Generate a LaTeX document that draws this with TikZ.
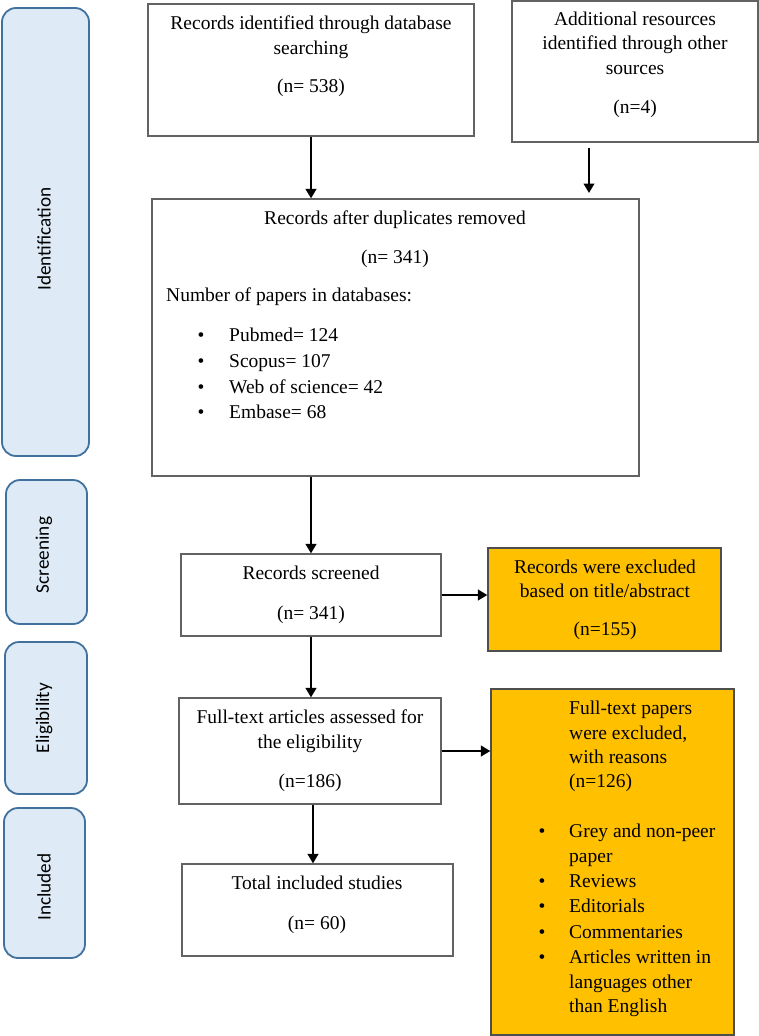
\documentclass[tikz,border=0pt]{standalone}
\usepackage{fontspec}
\setmainfont{Liberation Serif}
\newfontfamily\stagefont{Carlito}
\usetikzlibrary{arrows.meta,calc}
\definecolor{stagefill}{HTML}{DEEBF7}
\definecolor{stageline}{HTML}{41719C}
\definecolor{exclfill}{HTML}{FFC000}
\definecolor{boxline}{HTML}{626262}
\begin{document}
\begin{tikzpicture}[x=1pt,y=-1pt,
  stage/.style={draw=stageline, fill=stagefill, line width=1.8pt, rounded corners=14pt, inner sep=0pt},
  stagetxt/.style={rotate=90, inner sep=0pt, font=\stagefont\fontsize{19.2}{23}\selectfont},
  box/.style={draw=boxline, fill=white, line width=1.2pt, inner sep=0pt},
  exbox/.style={draw=boxline!80!black, fill=exclfill, line width=1.2pt, inner sep=0pt},
  txt/.style={inner sep=0pt, anchor=base, font=\fontsize{19.5}{24}\selectfont},
  ltxt/.style={txt, anchor=base west},
  arr/.style={draw=black, line width=2.8pt, -{Triangle[length=9.5pt,width=10.5pt]}}]
\useasboundingbox (0,0) rectangle (759,1036);

% stage boxes
\node[stage, minimum width=87pt, minimum height=448pt] (s1) at (45.5,232) {};
\node[stagetxt] (s1t) at (44,239) {Identification};
\node[stage, minimum width=81pt, minimum height=144pt] (s2) at (46.5,552) {};
\node[stagetxt] (s2t) at (44,555) {Screening};
\node[stage, minimum width=82pt, minimum height=152pt] (s3) at (46,718) {};
\node[stagetxt] (s3t) at (44,718) {Eligibility};
\node[stage, minimum width=81pt, minimum height=150pt] (s4) at (44.5,883) {};
\node[stagetxt] (s4t) at (44,887) {Included};

% boxes
\node[box, minimum width=326pt, minimum height=132pt] (b1) at (311,70) {};
\node[box, minimum width=246pt, minimum height=141pt] (b2) at (635,71.5) {};
\node[box, minimum width=487pt, minimum height=277pt] (b3) at (395.5,337.5) {};
\node[box, minimum width=260pt, minimum height=82pt] (b4) at (311,595) {};
\node[exbox, minimum width=233pt, minimum height=103pt] (b5) at (604.5,599.5) {};
\node[box, minimum width=262pt, minimum height=106pt] (b6) at (310,751) {};
\node[exbox, minimum width=243pt, minimum height=346pt] (b7) at (612.5,862) {};
\node[box, minimum width=271pt, minimum height=92pt] (b8) at (317.5,910) {};

% box 1
\node[txt] (t1a) at (311,29) {Records identified through database};
\node[txt] (t1b) at (311,54) {searching};
\node[txt] (t1c) at (311,92) {(n= 538)};
% box 2
\node[txt] (t2a) at (635,25) {Additional resources};
\node[txt] (t2b) at (635,49) {identified through other};
\node[txt] (t2c) at (635,74) {sources};
\node[txt] (t2d) at (635,113) {(n=4)};
% box 3
\node[txt] (t3a) at (395,224) {Records after duplicates removed};
\node[txt] (t3b) at (395,263) {(n= 341)};
\node[ltxt] (t3c) at (166,301) {Number of papers in databases:};
\node[txt] (t3d) at (201,341) {\textbullet};
\node[ltxt] (t3e) at (229,341) {Pubmed= 124};
\node[txt] (t3f) at (201,367) {\textbullet};
\node[ltxt] (t3g) at (229,367) {Scopus= 107};
\node[txt] (t3h) at (201,393) {\textbullet};
\node[ltxt] (t3i) at (229,393) {Web of science= 42};
\node[txt] (t3j) at (201,418) {\textbullet};
\node[ltxt] (t3k) at (229,418) {Embase= 68};
% box 4
\node[txt] (t4a) at (311,579) {Records screened};
\node[txt] (t4b) at (311,619) {(n= 341)};
% box 5
\node[txt] (t5a) at (605,573) {Records were excluded};
\node[txt] (t5b) at (605,597) {based on title/abstract};
\node[txt] (t5c) at (605,635) {(n=155)};
% box 6
\node[txt] (t6a) at (310,723) {Full-text articles assessed for};
\node[txt] (t6b) at (310,748) {the eligibility};
\node[txt] (t6c) at (310,787) {(n=186)};
% box 7
\node[ltxt] (t7a) at (569,714) {Full-text papers};
\node[ltxt] (t7b) at (569,739) {were excluded,};
\node[ltxt] (t7c) at (569,763) {with reasons};
\node[ltxt] (t7d) at (569,787) {(n=126)};
\node[txt] (t7e) at (542,837) {\textbullet};
\node[ltxt] (t7f) at (569,837) {Grey and non-peer};
\node[ltxt] (t7g) at (569,862) {paper};
\node[txt] (t7h) at (542,887) {\textbullet};
\node[ltxt] (t7i) at (569,887) {Reviews};
\node[txt] (t7j) at (542,912) {\textbullet};
\node[ltxt] (t7k) at (569,912) {Editorials};
\node[txt] (t7l) at (542,938) {\textbullet};
\node[ltxt] (t7m) at (569,938) {Commentaries};
\node[txt] (t7n) at (542,963) {\textbullet};
\node[ltxt] (t7o) at (569,963) {Articles written in};
\node[ltxt] (t7p) at (569,988) {languages other};
\node[ltxt] (t7q) at (569,1012) {than English};
% box 8
\node[txt] (t8a) at (317,889) {Total included studies};
\node[txt] (t8b) at (317,929) {(n= 60)};

% connectors
\coordinate (a2s) at (589,148);
\coordinate (a2e) at (589,193);
\draw[arr] (b1.south) -- (b1.south |- b3.north);
\draw[arr] (a2s) -- (a2e);
\draw[arr] (b3.south -| b4.north) -- (b4.north);
\draw[arr] (b4.east) -- (b4.east -| b5.west);
\draw[arr] (b4.south) -- (b4.south |- b6.north);
\draw[arr] (b6.east) -- (b6.east -| b7.west);
\draw[arr] ([xshift=3pt]b6.south) -- ([xshift=3pt]b6.south |- b8.north);
\end{tikzpicture}
\end{document}
